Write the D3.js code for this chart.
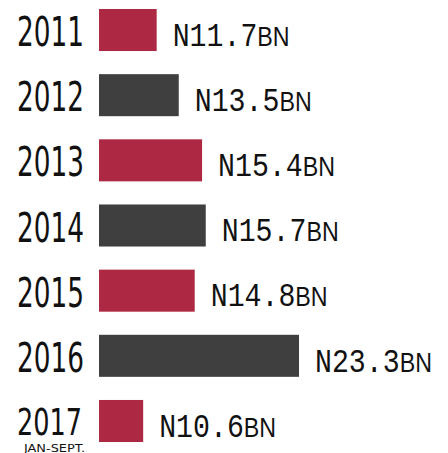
<!DOCTYPE html>
<html>
<head>
<meta charset="utf-8">
<script src="https://cdn.jsdelivr.net/npm/d3@7"></script>
<style>
  body { margin: 0; background: #fff; }
  svg { display: block; }
</style>
</head>
<body>
<div id="chart"></div>
<script>
// data
const years = ['2011', '2012', '2013', '2014', '2015', '2016', '2017'];
const values = [11.7, 13.5, 15.4, 15.7, 14.8, 23.3, 10.6];
const notes = ['', '', '', '', '', '', 'JAN-SEPT.'];

const width = 448;
const height = 453;
const red = '#ad2843';
const dark = '#3f3f3f';
const narrow = "'Liberation Sans Narrow', 'DejaVu Sans Condensed', 'Liberation Sans', sans-serif";

const svg = d3.select('#chart')
  .append('svg')
  .attr('width', width)
  .attr('height', height);

const y = d3.scaleBand()
  .domain(years)
  .range([9, 442])
  .paddingInner(0.355)
  .paddingOuter(0);

// bars don't start at zero in the original, fit a linear scale to them
const x = d3.scaleLinear()
  .domain([7, 23.3])
  .range([99, 299]);

const rows = svg.selectAll('g.row')
  .data(years.map((yr, i) => ({ year: yr, value: values[i], note: notes[i], i })))
  .enter()
  .append('g')
  .attr('class', 'row')
  .attr('transform', d => `translate(0, ${y(d.year) + y.bandwidth() / 2})`);

rows.append('rect')
  .attr('x', x.range()[0])
  .attr('y', -y.bandwidth() / 2)
  .attr('width', d => x(d.value) - x.range()[0])
  .attr('height', y.bandwidth())
  .attr('fill', d => d.i % 2 === 0 ? red : dark);

// year labels
rows.append('text')
  .attr('x', 17)
  .attr('y', d => d.note ? 14.5 : 16)
  .attr('font-family', narrow)
  .attr('font-size', d => d.note ? 37 : 41)
  .attr('textLength', d => d.note ? 65 : 67)
  .attr('lengthAdjust', 'spacingAndGlyphs')
  .attr('fill', '#111')
  .text(d => d.year);

rows.filter(d => d.note)
  .append('text')
  .attr('x', 24)
  .attr('y', 31.5)
  .attr('font-family', narrow)
  .attr('font-size', 10)
  .attr('textLength', 61)
  .attr('lengthAdjust', 'spacingAndGlyphs')
  .attr('fill', '#111')
  .text(d => d.note);

// value labels, squeezed horizontally like the condensed mono in the original
const val = rows.append('text')
  .attr('transform', d => `translate(${x(d.value) + 16}, 15.7) scale(0.83, 1)`)
  .attr('font-family', "'Liberation Mono', 'DejaVu Sans Mono', monospace")
  .attr('fill', '#111');

val.append('tspan')
  .attr('font-size', 34)
  .text(d => 'N' + d.value.toFixed(1));

val.append('tspan')
  .attr('font-family', "'Liberation Sans', sans-serif")
  .attr('font-size', 28)
  .text('BN');
</script>
</body>
</html>
